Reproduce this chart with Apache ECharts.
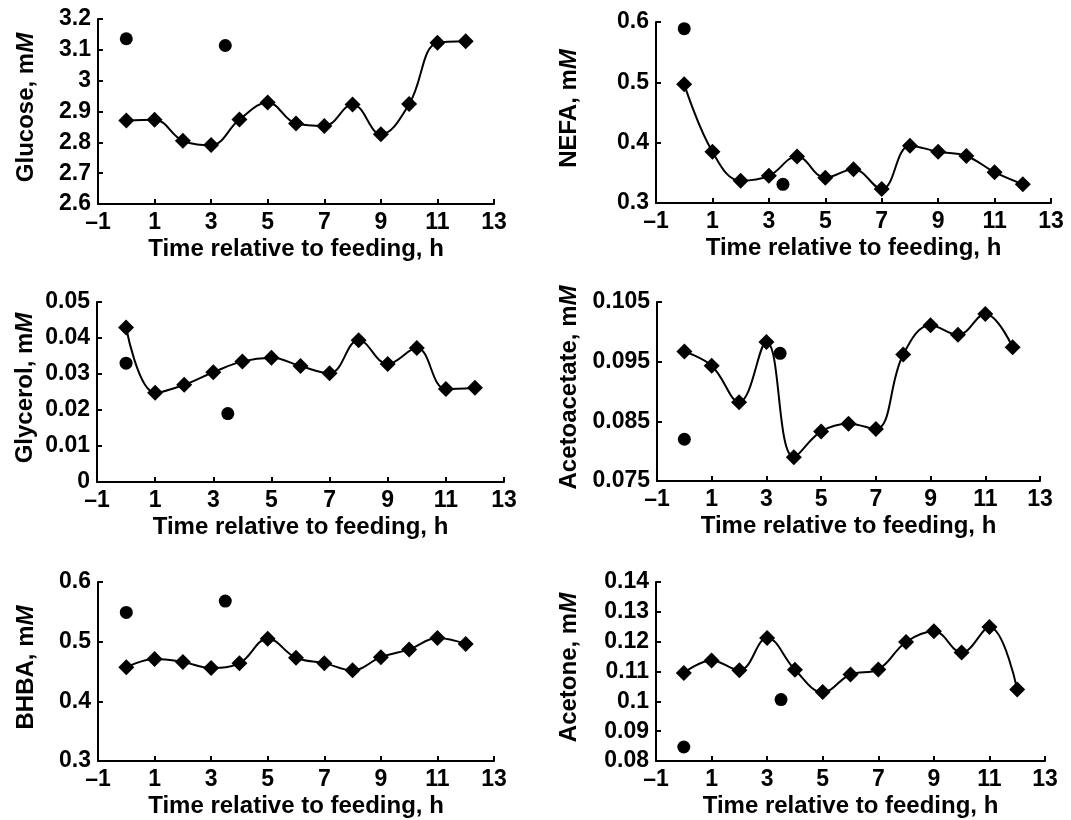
<!DOCTYPE html>
<html>
<head>
<meta charset="utf-8">
<script src="https://cdn.jsdelivr.net/npm/echarts@6/dist/echarts.min.js"></script>
<style>html,body{margin:0;padding:0;background:#fff}#c{width:1071px;height:820px}</style>
</head>
<body>
<div id="c"></div>
<script>
// ---- data ----
const hours = [0, 1, 2, 3, 4, 5, 6, 7, 8, 9, 10, 11, 12];
const circleHours = [0, 3.5];
const xTicks = [-1, 1, 3, 5, 7, 9, 11, 13];

const glucose = [2.871, 2.873, 2.805, 2.791, 2.874, 2.929, 2.861, 2.853, 2.923, 2.826, 2.924, 3.123, 3.128];
const glucoseDots = [3.136, 3.114];

const nefa = [0.497, 0.385, 0.337, 0.345, 0.377, 0.342, 0.356, 0.323, 0.395, 0.385, 0.378, 0.351, 0.331];
const nefaDots = [0.589, 0.331];

const glycerol = [0.0429, 0.0248, 0.0270, 0.0305, 0.0335, 0.0345, 0.0322, 0.0302, 0.0394, 0.0328, 0.0372, 0.0258, 0.0262];
const glycerolDots = [0.0330, 0.0190];

const acetoacetate = [0.0967, 0.0943, 0.0882, 0.0983, 0.0790, 0.0833, 0.0846, 0.0837, 0.0962, 0.1011, 0.0995, 0.1030, 0.0974];
const acetoacetateDots = [0.0820, 0.0964];

const bhba = [0.457, 0.471, 0.466, 0.456, 0.464, 0.505, 0.473, 0.464, 0.452, 0.474, 0.487, 0.506, 0.496];
const bhbaDots = [0.549, 0.568];

const acetone = [0.1095, 0.1137, 0.1104, 0.1212, 0.1106, 0.1031, 0.1090, 0.1107, 0.1199, 0.1235, 0.1164, 0.1249, 0.1040];
const acetoneDots = [0.0847, 0.1006];

const xTitle = 'Time relative to feeding, h';

// ---- panels ----
const panels = [
  {name: 'Glucose, m', line: glucose, dots: glucoseDots, min: 2.6, max: 3.2, step: 0.1,
   grid: {left: 98, top: 19, width: 396, height: 185}, gap: 60},
  {name: 'NEFA, m', line: nefa, dots: nefaDots, min: 0.3, max: 0.6, step: 0.1,
   grid: {left: 656, top: 22, width: 395, height: 181}, gap: 75},
  {name: 'Glycerol, m', line: glycerol, dots: glycerolDots, min: 0, max: 0.05, step: 0.01,
   grid: {left: 97, top: 302, width: 407, height: 180}, gap: 60},
  {name: 'Acetoacetate, m', line: acetoacetate, dots: acetoacetateDots, min: 0.075, max: 0.105, step: 0.01,
   grid: {left: 657, top: 302, width: 383, height: 179}, gap: 76},
  {name: 'BHBA, m', line: bhba, dots: bhbaDots, min: 0.3, max: 0.6, step: 0.1,
   grid: {left: 98, top: 582, width: 396, height: 179}, gap: 60},
  {name: 'Acetone, m', line: acetone, dots: acetoneDots, min: 0.08, max: 0.14, step: 0.01,
   grid: {left: 656, top: 582, width: 389, height: 179}, gap: 75}
];

const FONT = '"Liberation Sans", Arial, Helvetica, sans-serif';
const axisLine = {show: true, onZero: false, lineStyle: {color: '#000', width: 2}};
const axisTick = {show: true, inside: true, length: 5, lineStyle: {color: '#000', width: 2}};

const grids = [], xAxes = [], yAxes = [], series = [];
panels.forEach((p, i) => {
  grids.push(Object.assign({containLabel: false}, p.grid));
  xAxes.push({
    type: 'value', gridIndex: i, min: xTicks[0], max: xTicks[xTicks.length - 1], interval: 2,
    axisLine, axisTick, splitLine: {show: false},
    axisLabel: {color: '#000', fontFamily: FONT, fontWeight: 'bold', fontSize: 23, margin: 7,
      formatter: v => (v < 0 ? '\u2013' + Math.abs(v) : String(v))},
    name: xTitle, nameLocation: 'middle', nameGap: 33,
    nameTextStyle: {color: '#000', fontFamily: FONT, fontWeight: 'bold', fontSize: 24}
  });
  yAxes.push({
    type: 'value', gridIndex: i, min: p.min, max: p.max, interval: p.step,
    axisLine, axisTick, splitLine: {show: false},
    axisLabel: {color: '#000', fontFamily: FONT, fontWeight: 'bold', fontSize: 23, margin: 7,
      formatter: v => String(parseFloat(v.toFixed(4)))},
    name: '{a|' + p.name + '}{b|M}', nameLocation: 'middle', nameGap: p.gap,
    nameTextStyle: {color: '#000', fontFamily: FONT, fontWeight: 'bold', fontSize: 24,
      padding: [0, 0, 0, 8],
      rich: {
        a: {color: '#000', fontFamily: FONT, fontWeight: 'bold', fontSize: 24},
        b: {color: '#000', fontFamily: FONT, fontWeight: 'bold', fontStyle: 'italic', fontSize: 24}
      }}
  });
  series.push({
    type: 'line', xAxisIndex: i, yAxisIndex: i, smooth: 0.4,
    data: hours.map((h, k) => [h, p.line[k]]),
    symbol: 'diamond', symbolSize: 16, showAllSymbol: true,
    lineStyle: {color: '#000', width: 2}, itemStyle: {color: '#000', opacity: 1}, z: 3
  });
  series.push({
    type: 'scatter', xAxisIndex: i, yAxisIndex: i,
    data: circleHours.map((h, k) => [h, p.dots[k]]),
    symbol: 'circle', symbolSize: 13, itemStyle: {color: '#000', opacity: 1}, z: 4
  });
});

const chart = echarts.init(document.getElementById('c'), null, {renderer: 'canvas'});
chart.setOption({
  animation: false, backgroundColor: '#fff',
  grid: grids, xAxis: xAxes, yAxis: yAxes, series
});
</script>
</body>
</html>
